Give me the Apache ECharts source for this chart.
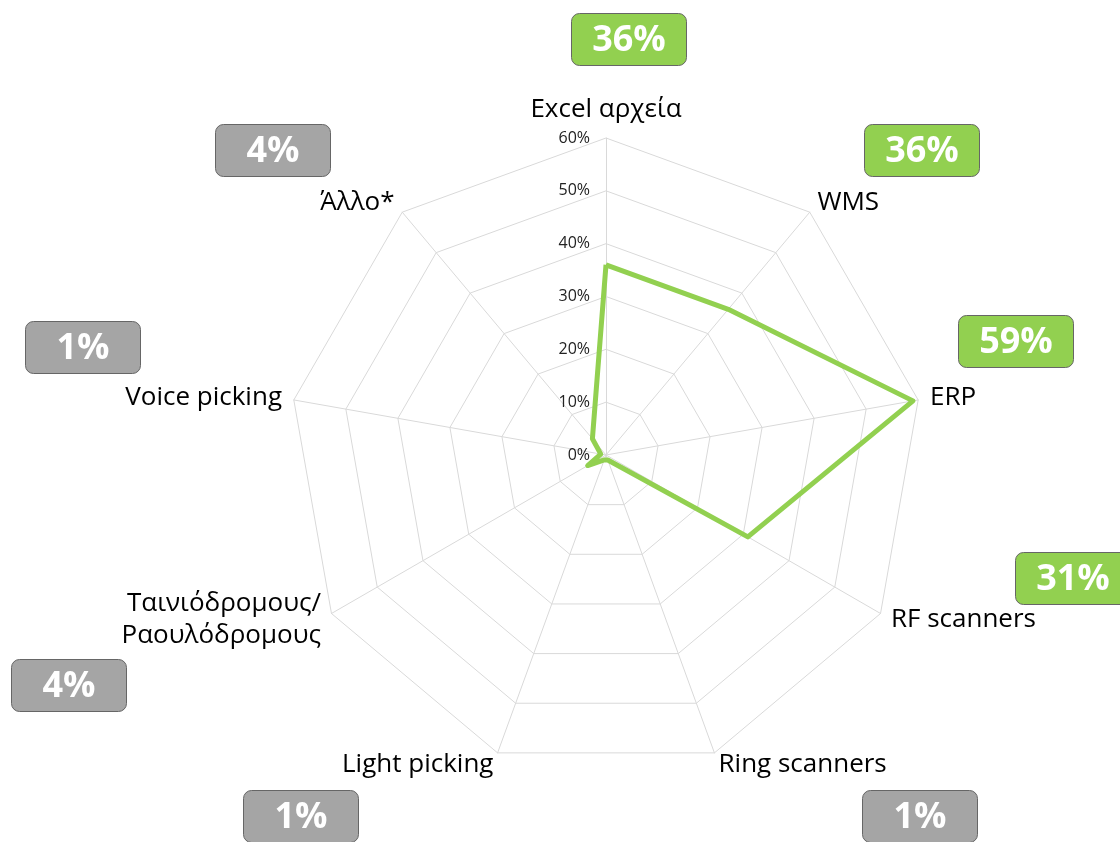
<!DOCTYPE html>
<html>
<head>
<meta charset="utf-8">
<script src="https://cdn.jsdelivr.net/npm/echarts@6/dist/echarts.min.js"></script>
<style>
  html, body { margin: 0; padding: 0; background: #fff; }
  #chart { width: 1120px; height: 842px; }
</style>
</head>
<body>
<div id="chart"></div>
<script>
// axis names, clockwise from the top
var categories = ['Excel αρχεία', 'WMS', 'ERP', 'RF scanners', 'Ring scanners', 'Light picking',
  'Ταινιόδρομους/\nΡαουλόδρομους', 'Voice picking', 'Άλλο*']
// share of answers, %
var values = [36, 36, 59, 31, 1, 1, 4, 1, 4]
var tickLabels = ['0%', '10%', '20%', '30%', '40%', '50%', '60%']

// where the value boxes sit (layout only)
var boxPos = [[571, 13], [864, 124], [958, 315], [1015, 552], [862, 790],
  [243, 790], [11, 659], [25, 321], [215, 124]]

var font = "'Open Sans', 'Noto Sans', sans-serif"
var green = '#92D050'
var grey = '#A5A5A5'

// radar runs counter-clockwise, so keep the first axis on top and reverse the rest
var order = [0]
for (var k = categories.length - 1; k > 0; k--) order.push(k)

var indicator = order.map(function (i, pos) {
  var ind = { name: categories[i], min: 0, max: 60 }
  if (pos === 0) {
    ind.axisLabel = {
      show: true,
      color: '#222',
      fontSize: 16,
      margin: 16,
      fontFamily: font,
      formatter: function (v) { return tickLabels[Math.round(v / 10)] }
    }
  }
  return ind
})
var shown = order.map(function (i) { return values[i] })

var boxes = values.map(function (v, i) {
  return {
    type: 'group',
    left: boxPos[i][0],
    top: boxPos[i][1],
    children: [
      {
        type: 'rect',
        shape: { x: 0, y: 0, width: 115, height: 52, r: 8 },
        style: { fill: v > 10 ? green : grey, stroke: '#666', lineWidth: 1 }
      },
      {
        type: 'text',
        x: 57.5,
        y: 27,
        style: {
          text: v + '%',
          fill: '#fff',
          font: 'bold 36px ' + font,
          align: 'center',
          verticalAlign: 'middle'
        }
      }
    ]
  }
})

var chart = echarts.init(document.getElementById('chart'))
chart.setOption({
  animation: false,
  radar: {
    center: [606, 455],
    radius: 317,
    startAngle: 90,
    shape: 'polygon',
    splitNumber: 6,
    indicator: indicator,
    nameGap: 12,
    axisName: {
      color: '#000',
      fontSize: 26,
      fontFamily: font,
      lineHeight: 32
    },
    axisLine: { lineStyle: { color: '#D9D9D9', width: 1 } },
    splitLine: { lineStyle: { color: '#D9D9D9', width: 1 } },
    splitArea: { show: false },
    axisTick: { show: false },
    axisLabel: { show: false }
  },
  series: [{
    type: 'radar',
    symbol: 'none',
    lineStyle: { color: green, width: 5 },
    data: [{ value: shown }]
  }],
  graphic: boxes
})
</script>
</body>
</html>
